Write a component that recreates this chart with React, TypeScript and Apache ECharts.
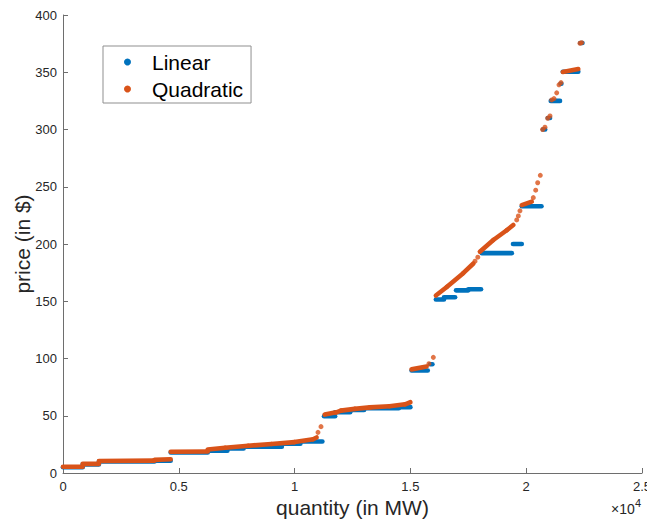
import React, { useEffect, useRef } from 'react';
import * as echarts from 'echarts';

const BLUE = '#0072BD';
const ORANGE = '#D95319';
const FONT = 'Liberation Sans, Arial, Helvetica, sans-serif';

// x tick labels (in units of 10^4 MW)
const X_TICK_LABELS = ['0', '0.5', '1', '1.5', '2', '2.5'];

// Linear bid curve: horizontal steps [quantity start, quantity end, price]
const LINEAR_STEPS: number[][] = [
  [0, 850, 5],
  [850, 1550, 7.5],
  [1550, 3950, 10],
  [3950, 4650, 10.8],
  [4650, 6250, 18],
  [6250, 7100, 19.5],
  [7100, 7800, 21.5],
  [7800, 9450, 23],
  [9450, 10250, 25.5],
  [10250, 11200, 27.5],
  [11270, 11750, 49.5],
  [11750, 12400, 53],
  [12400, 13000, 55],
  [13000, 14500, 56.5],
  [14500, 15000, 57.5],
  [15050, 15750, 89.5],
  [15850, 15950, 95],
  [16100, 16450, 151.5],
  [16450, 16930, 153.5],
  [16970, 17500, 159.5],
  [17500, 18050, 160.5],
  [18080, 19380, 192],
  [19430, 19810, 200],
  [19810, 20660, 233],
  [20720, 20820, 300],
  [20930, 21030, 310],
  [21060, 21460, 325],
  [21480, 21520, 340],
  [21580, 22250, 350.5],
  [22330, 22430, 375.5],
];

// Quadratic bid curve: dense runs of points (quantity, price)
const QUAD_RUNS: number[][][] = [
  [[0, 5.5], [850, 5.5]],
  [[850, 8], [1550, 8]],
  [[1550, 10.5], [3950, 10.8]],
  [[3950, 11.5], [4650, 12]],
  [[4650, 18.5], [6250, 18.8]],
  [[6250, 20.5], [7000, 22], [8000, 23.8], [9000, 25.3], [10000, 27], [10800, 29.5], [10950, 31]],
  [[11300, 51], [11800, 53], [12000, 54.5], [12600, 56], [13250, 57.3], [14100, 58.3], [14770, 60], [15000, 61.8]],
  [[15050, 90.5], [15700, 93]],
  [[16100, 155], [16570, 162.5], [17280, 174.5], [17720, 183]],
  [[18000, 193.3], [18580, 203.5], [19160, 212], [19440, 216.6]],
  [[19810, 234], [20240, 237]],
  [[21580, 350.3], [22250, 352.8]],
];

// Quadratic bid curve: isolated points (quantity, price)
const QUAD_DOTS: number[][] = [
  [11010, 35.5], [11140, 40.5],
  [15800, 95.5], [15990, 101],
  [17790, 185], [17910, 188.5],
  [19590, 221], [19660, 224.5], [19730, 229],
  [20306, 240.5], [20410, 247], [20496, 253.5], [20609, 260],
  [20710, 300], [20810, 302], [20928, 309.8], [21028, 311.8],
  [21101, 325.8], [21200, 327], [21317, 332], [21416, 339], [21503, 341],
  [22323, 375.3], [22396, 375.8],
];

const segRender = (color: string) => (params: any, api: any) => {
  const a = api.coord([api.value(0), api.value(1)]);
  const b = api.coord([api.value(2), api.value(3)]);
  return {
    type: 'line',
    shape: { x1: a[0], y1: a[1], x2: b[0], y2: b[1] },
    style: { stroke: color, lineWidth: 4.6, lineCap: 'round', fill: null },
  };
};

export default function App() {
  const ref = useRef<HTMLDivElement>(null);

  useEffect(() => {
    if (!ref.current) return;
    const chart = echarts.init(ref.current, null, { renderer: 'svg' });

    const linearSegs = LINEAR_STEPS.map(([q0, q1, p]) => [q0, p, q1, p]);
    const quadSegs: number[][] = [];
    QUAD_RUNS.forEach((run) => {
      for (let i = 0; i < run.length - 1; i++) {
        quadSegs.push([run[i][0], run[i][1], run[i + 1][0], run[i + 1][1]]);
      }
    });

    const axisColor = '#6e6e6e';
    const textColor = '#262626';

    chart.setOption({
      animation: false,
      textStyle: { fontFamily: FONT },
      grid: {
        left: 63,
        right: 5,
        top: 15,
        bottom: 47,
        containLabel: false,
        outerBoundsMode: 'none',
      },
      legend: {
        orient: 'vertical',
        left: 103,
        top: 46,
        padding: [4, 8, 2, 21],
        itemGap: 3,
        itemWidth: 7,
        itemHeight: 7,
        borderColor: '#8f8f8f',
        borderWidth: 1,
        selectedMode: false,
        textStyle: {
          fontSize: 21,
          color: '#000',
          fontFamily: FONT,
          lineHeight: 24,
          padding: [0, 0, 0, 16],
        },
        data: [
          { name: 'Linear', icon: 'circle' },
          { name: 'Quadratic', icon: 'circle' },
        ],
      },
      xAxis: {
        type: 'value',
        min: 0,
        max: 25000,
        interval: 5000,
        name: 'quantity (in MW)',
        nameLocation: 'middle',
        nameGap: 24,
        nameMoveOverlap: false,
        nameTextStyle: { fontSize: 21, color: textColor, fontFamily: FONT },
        axisLine: { show: true, onZero: false, lineStyle: { color: axisColor, width: 1 } },
        axisTick: { show: true, inside: true, length: 5, lineStyle: { color: axisColor } },
        axisLabel: {
          margin: 7,
          fontSize: 13,
          color: textColor,
          fontFamily: FONT,
          formatter: (v: number) => X_TICK_LABELS[Math.round(v / 5000)] ?? '',
        },
        splitLine: { show: false },
      },
      yAxis: {
        type: 'value',
        min: 0,
        max: 400,
        interval: 50,
        name: 'price (in $)',
        nameLocation: 'middle',
        nameGap: 30,
        nameMoveOverlap: false,
        nameTextStyle: { fontSize: 21, color: textColor, fontFamily: FONT },
        axisLine: { show: true, onZero: false, lineStyle: { color: axisColor, width: 1 } },
        axisTick: { show: true, inside: true, length: 5, lineStyle: { color: axisColor } },
        axisLabel: { margin: 6, fontSize: 13, color: textColor, fontFamily: FONT },
        splitLine: { show: false },
      },
      graphic: [
        {
          type: 'text',
          x: 611,
          y: 502,
          style: { text: '×10', fontSize: 14, fill: textColor, fontFamily: FONT },
        },
        {
          type: 'text',
          x: 635,
          y: 497,
          style: { text: '4', fontSize: 11, fill: textColor, fontFamily: FONT },
        },
      ],
      series: [
        {
          name: 'Linear',
          type: 'custom',
          itemStyle: { color: BLUE },
          encode: { x: [0, 2], y: [1, 3] },
          renderItem: segRender(BLUE),
          data: linearSegs,
          z: 2,
        },
        {
          name: 'Quadratic',
          type: 'custom',
          itemStyle: { color: ORANGE },
          encode: { x: [0, 2], y: [1, 3] },
          renderItem: segRender(ORANGE),
          data: quadSegs,
          z: 3,
        },
        {
          name: 'Quadratic',
          type: 'scatter',
          symbol: 'circle',
          symbolSize: 5,
          itemStyle: { color: ORANGE },
          data: QUAD_DOTS,
          z: 4,
        },
      ],
    });

    return () => chart.dispose();
  }, []);

  return (
    <div
      ref={ref}
      style={{ position: 'absolute', left: 0, top: 0, width: 647, height: 520 }}
    />
  );
}
